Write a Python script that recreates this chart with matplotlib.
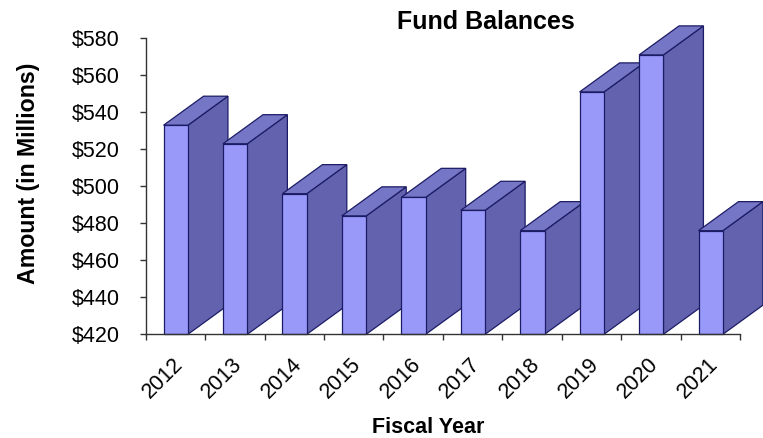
import matplotlib
matplotlib.use("Agg")
import matplotlib.pyplot as plt
from matplotlib.patches import Polygon
import matplotlib.transforms as mtransforms

years = ["2012", "2013", "2014", "2015", "2016", "2017", "2018", "2019", "2020", "2021"]
balances = [533, 523, 496, 484, 494, 487, 476, 551, 571, 476]
y_ticks = [420, 440, 460, 480, 500, 520, 540, 560, 580]
y_tick_labels = ["$%d" % v for v in y_ticks]

FRONT = "#9999fa"
SIDE = "#6262ae"
TOP = "#7676c6"
EDGE = "#1c1c66"

plt.rcParams['font.family'] = ['Liberation Sans', 'DejaVu Sans']

fig = plt.figure(figsize=(7.63, 4.38), dpi=100)
fig.patch.set_facecolor("white")
ax = fig.add_axes([0.191, 0.2368, 0.779, 0.6758])
ax.set_xlim(0, len(years))
ax.set_ylim(420, 580)

base = 420
off, w = 0.30, 0.41
dx, dy = 0.673, 15.7

for i, v in enumerate(balances):
    x0 = i + off
    x1 = x0 + w
    side = Polygon([(x1, base), (x1 + dx, base + dy), (x1 + dx, v + dy), (x1, v)],
                   closed=True, facecolor=SIDE, edgecolor=EDGE, lw=0.9, clip_on=False, zorder=3 + i)
    top = Polygon([(x0, v), (x0 + dx, v + dy), (x1 + dx, v + dy), (x1, v)],
                  closed=True, facecolor=TOP, edgecolor=EDGE, lw=0.9, clip_on=False, zorder=3 + i)
    front = Polygon([(x0, base), (x1, base), (x1, v), (x0, v)],
                    closed=True, facecolor=FRONT, edgecolor=EDGE, lw=0.9, clip_on=False, zorder=3 + i)
    ax.add_patch(side)
    ax.add_patch(top)
    ax.add_patch(front)

for s in ["top", "right"]:
    ax.spines[s].set_visible(False)
for s in ["left", "bottom"]:
    ax.spines[s].set_color("#333333")
    ax.spines[s].set_linewidth(1.0)
    ax.spines[s].set_zorder(20)

ax.set_yticks(y_ticks)
ax.set_yticklabels(y_tick_labels, fontsize=15.5)
ax.tick_params(axis='y', direction='out', length=4, width=1, color="#333333", pad=15)

ax.set_xticks(range(len(years) + 1))
ax.set_xticklabels([""] * (len(years) + 1))
ax.tick_params(axis='x', which='major', direction='out', length=4, width=1, color="#333333")
ax.set_xticks([i + 0.5 for i in range(len(years))], minor=True)
ax.set_xticklabels(years, minor=True, fontsize=15.5, rotation=45, ha='right', rotation_mode='anchor')
ax.tick_params(axis='x', which='minor', length=0, pad=14)
shift = mtransforms.ScaledTranslation(-3 / 100, 0, fig.dpi_scale_trans)
for lab in ax.get_xticklabels(minor=True):
    lab.set_transform(lab.get_transform() + shift)

ax.set_facecolor("none")
fig.text(0.637, 0.950, "Fund Balances", fontsize=18, fontweight='bold', ha='center', va='center')
fig.text(0.561, 0.023, "Fiscal Year", fontsize=15.5, fontweight='bold', ha='center', va='center')
fig.text(0.037, 0.604, "Amount (in Millions)", fontsize=16.7, fontweight='bold', ha='center', va='center', rotation=90)

fig.savefig("out.png", dpi=100, facecolor="white")
